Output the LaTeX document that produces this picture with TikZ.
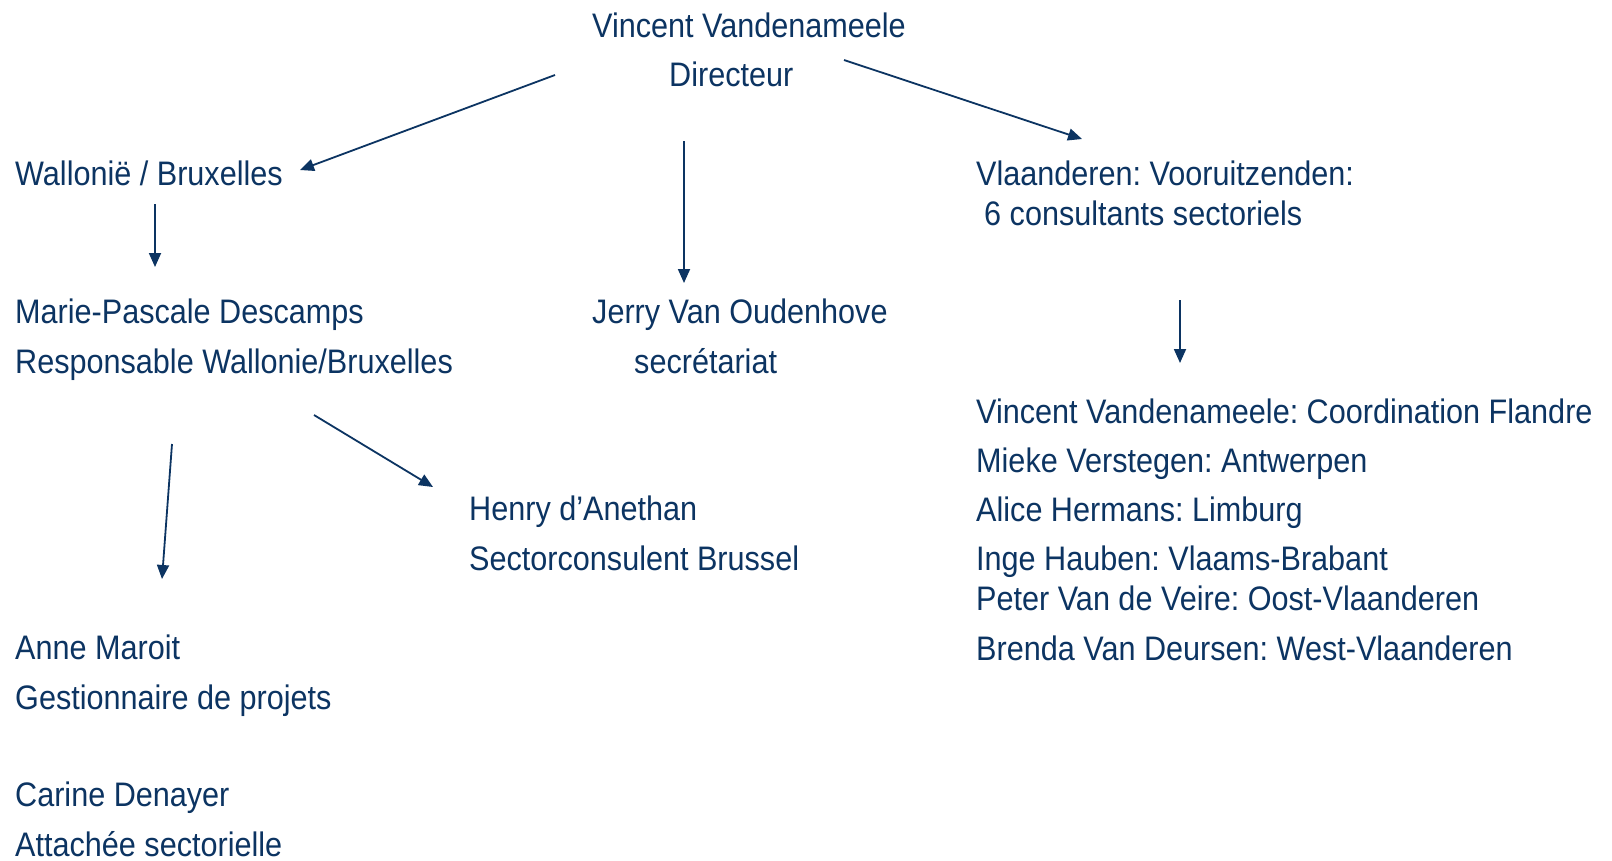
\documentclass[tikz,border=0pt]{standalone}
\usepackage{fontspec}
\setmainfont{Liberation Sans}[FakeStretch=0.9]
\usetikzlibrary{arrows.meta}
\definecolor{navy}{RGB}{12,52,98}
\frenchspacing
\tikzset{
  txt/.style={anchor=base west, inner sep=0pt, text=navy, align=left,
    font=\fontsize{34}{49.2}\selectfont\frenchspacing},
  link/.style={draw=navy, line width=1.8pt, -{Triangle[length=14pt,width=12pt]}}
}
\begin{document}
\begin{tikzpicture}[x=1pt,y=-1pt]
\useasboundingbox[fill=white] (0,0) rectangle (1612,860);
% nodes (multi-line nodes are placed by the baseline of their last line)
\node[txt] (dir) at (592,37) {Vincent Vandenameele};
\node[txt] (dirt) at (669,86) {Directeur};
\node[txt] (wal) at (15,185) {Wallonië / Bruxelles};
\node[txt] (mar) at (15,373) {Marie-Pascale Descamps\\Responsable Wallonie/Bruxelles};
\node[txt] (jer) at (592,373) {Jerry Van Oudenhove\\\hspace*{42pt}secrétariat};
\node[txt] (vla) at (976,225) {Vlaanderen: Vooruitzenden:\\[-9.2pt]\hspace*{8pt}6 consultants sectoriels};
\node[txt] (hen) at (469,570) {Henry d’Anethan\\Sectorconsulent Brussel};
\node[txt] (ann) at (15,709) {Anne Maroit\\Gestionnaire de projets};
\node[txt] (car) at (15,856) {Carine Denayer\\Attachée sectorielle};
\node[txt] (fla) at (976,660) {Vincent Vandenameele: Coordination Flandre\\Mieke Verstegen: Antwerpen\\Alice Hermans: Limburg\\Inge Hauben: Vlaams-Brabant\\[-9.2pt]Peter Van de Veire: Oost-Vlaanderen\\Brenda Van Deursen: West-Vlaanderen};
% connector end points
\coordinate (d2ws) at (555,75);  \coordinate (d2we) at (300,170);
\coordinate (d2vs) at (844,60);  \coordinate (d2ve) at (1082,139);
\coordinate (d2js) at (684,141); \coordinate (d2je) at (684,283);
\coordinate (w2ms) at (155,204); \coordinate (w2me) at (155,267);
\coordinate (v2fs) at (1180,300);\coordinate (v2fe) at (1180,363);
\coordinate (m2hs) at (314,415); \coordinate (m2he) at (433,487);
\coordinate (m2as) at (172,444); \coordinate (m2ae) at (162,579);
% connectors
\draw[link] (d2ws) -- (d2we);
\draw[link] (d2vs) -- (d2ve);
\draw[link] (d2js) -- (d2je);
\draw[link] (w2ms) -- (w2me);
\draw[link] (v2fs) -- (v2fe);
\draw[link] (m2hs) -- (m2he);
\draw[link] (m2as) -- (m2ae);
\end{tikzpicture}
\end{document}
